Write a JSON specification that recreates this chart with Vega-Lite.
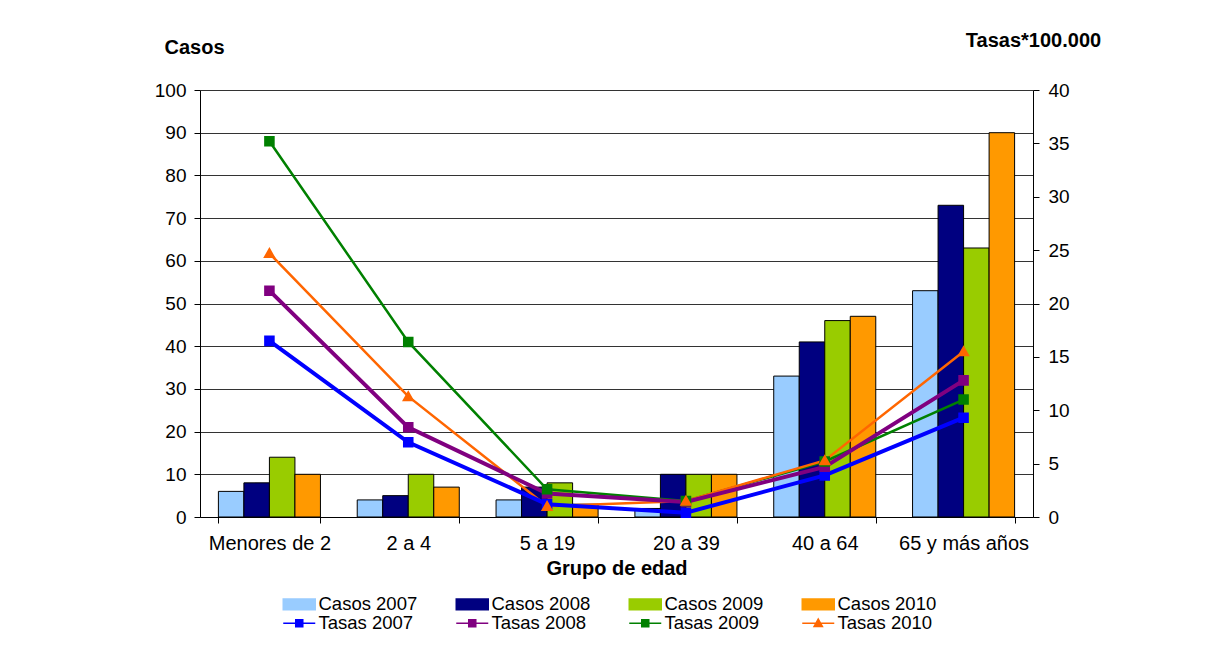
{
  "$schema": "https://vega.github.io/schema/vega-lite/v6.json",
  "width": 833,
  "height": 427,
  "autosize": {"type": "none"},
  "padding": {"left": 200, "top": 90, "right": 183, "bottom": 147},
  "background": "white",
  "config": {
    "view": {"stroke": null},
    "font": "Liberation Sans",
    "axis": {"labelColor": "black", "titleColor": "black", "domainColor": "black", "tickColor": "black", "labelFont": "Liberation Sans", "titleFont": "Liberation Sans"},
    "legend": {"labelFont": "Liberation Sans"}
  },
  "datasets": {
    "casos": [
      {"grupo": "Menores de 2", "serie": "Casos 2007", "valor": 6},
      {"grupo": "Menores de 2", "serie": "Casos 2008", "valor": 8},
      {"grupo": "Menores de 2", "serie": "Casos 2009", "valor": 14},
      {"grupo": "Menores de 2", "serie": "Casos 2010", "valor": 10},
      {"grupo": "2 a 4", "serie": "Casos 2007", "valor": 4},
      {"grupo": "2 a 4", "serie": "Casos 2008", "valor": 5},
      {"grupo": "2 a 4", "serie": "Casos 2009", "valor": 10},
      {"grupo": "2 a 4", "serie": "Casos 2010", "valor": 7},
      {"grupo": "5 a 19", "serie": "Casos 2007", "valor": 4},
      {"grupo": "5 a 19", "serie": "Casos 2008", "valor": 7},
      {"grupo": "5 a 19", "serie": "Casos 2009", "valor": 8},
      {"grupo": "5 a 19", "serie": "Casos 2010", "valor": 3},
      {"grupo": "20 a 39", "serie": "Casos 2007", "valor": 2},
      {"grupo": "20 a 39", "serie": "Casos 2008", "valor": 10},
      {"grupo": "20 a 39", "serie": "Casos 2009", "valor": 10},
      {"grupo": "20 a 39", "serie": "Casos 2010", "valor": 10},
      {"grupo": "40 a 64", "serie": "Casos 2007", "valor": 33},
      {"grupo": "40 a 64", "serie": "Casos 2008", "valor": 41},
      {"grupo": "40 a 64", "serie": "Casos 2009", "valor": 46},
      {"grupo": "40 a 64", "serie": "Casos 2010", "valor": 47},
      {"grupo": "65 y más años", "serie": "Casos 2007", "valor": 53},
      {"grupo": "65 y más años", "serie": "Casos 2008", "valor": 73},
      {"grupo": "65 y más años", "serie": "Casos 2009", "valor": 63},
      {"grupo": "65 y más años", "serie": "Casos 2010", "valor": 90}
    ],
    "tasas": [
      {"grupo": "Menores de 2", "serie": "Tasas 2007", "tasa": 16.5},
      {"grupo": "2 a 4", "serie": "Tasas 2007", "tasa": 7.0},
      {"grupo": "5 a 19", "serie": "Tasas 2007", "tasa": 1.2},
      {"grupo": "20 a 39", "serie": "Tasas 2007", "tasa": 0.4},
      {"grupo": "40 a 64", "serie": "Tasas 2007", "tasa": 3.9},
      {"grupo": "65 y más años", "serie": "Tasas 2007", "tasa": 9.3},
      {"grupo": "Menores de 2", "serie": "Tasas 2008", "tasa": 21.2},
      {"grupo": "2 a 4", "serie": "Tasas 2008", "tasa": 8.4},
      {"grupo": "5 a 19", "serie": "Tasas 2008", "tasa": 2.2},
      {"grupo": "20 a 39", "serie": "Tasas 2008", "tasa": 1.4},
      {"grupo": "40 a 64", "serie": "Tasas 2008", "tasa": 4.7},
      {"grupo": "65 y más años", "serie": "Tasas 2008", "tasa": 12.8},
      {"grupo": "Menores de 2", "serie": "Tasas 2009", "tasa": 35.2},
      {"grupo": "2 a 4", "serie": "Tasas 2009", "tasa": 16.4},
      {"grupo": "5 a 19", "serie": "Tasas 2009", "tasa": 2.6},
      {"grupo": "20 a 39", "serie": "Tasas 2009", "tasa": 1.5},
      {"grupo": "40 a 64", "serie": "Tasas 2009", "tasa": 5.2},
      {"grupo": "65 y más años", "serie": "Tasas 2009", "tasa": 11.0},
      {"grupo": "Menores de 2", "serie": "Tasas 2010", "tasa": 24.7},
      {"grupo": "2 a 4", "serie": "Tasas 2010", "tasa": 11.3},
      {"grupo": "5 a 19", "serie": "Tasas 2010", "tasa": 1.0},
      {"grupo": "20 a 39", "serie": "Tasas 2010", "tasa": 1.5},
      {"grupo": "40 a 64", "serie": "Tasas 2010", "tasa": 5.3},
      {"grupo": "65 y más años", "serie": "Tasas 2010", "tasa": 15.5}
    ]
  },
  "layer": [
    {
      "data": {"name": "casos"},
      "mark": {"type": "bar", "stroke": "black", "strokeWidth": 1},
      "encoding": {
        "x": {
          "field": "grupo", "type": "nominal",
          "sort": ["Menores de 2", "2 a 4", "5 a 19", "20 a 39", "40 a 64", "65 y más años"],
          "scale": {"paddingInner": 0.265, "paddingOuter": 0.1325},
          "axis": {"title": "Grupo de edad", "titleFontSize": 20, "titleFontWeight": "bold", "titlePadding": 5, "labelAngle": 0, "labelFontSize": 20, "labelPadding": 10, "tickSize": 6, "tickBand": "extent", "domainColor": "black"}
        },
        "xOffset": {
          "field": "serie", "type": "nominal",
          "sort": ["Casos 2007", "Casos 2008", "Casos 2009", "Casos 2010"],
          "scale": {"paddingInner": 0, "paddingOuter": 0}
        },
        "y": {
          "field": "valor", "type": "quantitative",
          "scale": {"domain": [0, 100], "nice": false},
          "axis": {"title": "Casos", "titleAngle": 0, "titleX": -6, "titleY": -43, "titleAlign": "center", "titleBaseline": "middle", "titleFontSize": 20, "titleFontWeight": "bold", "values": [0, 10, 20, 30, 40, 50, 60, 70, 80, 90, 100], "grid": true, "gridColor": "#333333", "gridWidth": 1, "tickSize": 6, "labelPadding": 8, "labelFontSize": 19}
        },
        "color": {
          "field": "serie", "type": "nominal",
          "scale": {
            "domain": ["Casos 2007", "Casos 2008", "Casos 2009", "Casos 2010", "Tasas 2007", "Tasas 2008", "Tasas 2009", "Tasas 2010"],
            "range": ["#99CCFF", "#000080", "#99CC00", "#FF9900", "#0000FF", "#800080", "#008000", "#FF6600"]
          },
          "legend": {
            "title": null, "orient": "none", "direction": "horizontal", "legendX": 90, "legendY": 505, "columns": 4, "columnPadding": 35, "rowPadding": -2,
            "padding": 0, "labelFontSize": 18.5, "labelOffset": 10, "symbolSize": 256, "labelColor": "black",
            "encode": {"symbols": {"update": {
              "fill": {"scale": "color", "field": "value"},
              "stroke": {"signal": "indexof(datum.value, 'Casos') === 0 ? '#000000' : scale('color', datum.value)"},
              "strokeWidth": {"signal": "indexof(datum.value, 'Casos') === 0 ? 1 : 3"},
              "size": {"value": 256},
              "opacity": {"value": 1}
            }}}
          }
        }
      }
    },
    {
      "data": {"name": "tasas"},
      "layer": [
        {
          "transform": [{"filter": "datum.serie === 'Tasas 2009' || datum.serie === 'Tasas 2010'"}],
          "mark": {"type": "line", "strokeWidth": 2.5},
          "encoding": {
            "x": {"field": "grupo", "type": "nominal", "sort": ["Menores de 2", "2 a 4", "5 a 19", "20 a 39", "40 a 64", "65 y más años"]},
            "y": {"field": "tasa", "type": "quantitative", "scale": {"domain": [0, 40], "nice": false},
              "axis": {"orient": "right", "title": "Tasas*100.000", "titleAngle": 0, "titleX": 0, "titleY": -50, "titleAlign": "center", "titleBaseline": "middle", "titleFontSize": 20, "titleFontWeight": "bold", "values": [0, 5, 10, 15, 20, 25, 30, 35, 40], "grid": false, "tickSize": 6, "labelPadding": 9, "labelFontSize": 19}},
            "color": {"field": "serie", "type": "nominal"}
          }
        },
        {
          "transform": [{"filter": "datum.serie === 'Tasas 2007' || datum.serie === 'Tasas 2008'"}],
          "mark": {"type": "line", "strokeWidth": 4},
          "encoding": {
            "x": {"field": "grupo", "type": "nominal", "sort": ["Menores de 2", "2 a 4", "5 a 19", "20 a 39", "40 a 64", "65 y más años"]},
            "y": {"field": "tasa", "type": "quantitative", "scale": {"domain": [0, 40], "nice": false},
              "axis": {"orient": "right", "title": "Tasas*100.000", "titleAngle": 0, "titleX": 0, "titleY": -50, "titleAlign": "center", "titleBaseline": "middle", "titleFontSize": 20, "titleFontWeight": "bold", "values": [0, 5, 10, 15, 20, 25, 30, 35, 40], "grid": false, "tickSize": 6, "labelPadding": 9, "labelFontSize": 19}},
            "color": {"field": "serie", "type": "nominal"}
          }
        },
        {
          "mark": {"type": "point", "filled": true, "size": 575, "opacity": 1},
          "encoding": {
            "x": {"field": "grupo", "type": "nominal", "sort": ["Menores de 2", "2 a 4", "5 a 19", "20 a 39", "40 a 64", "65 y más años"]},
            "y": {"field": "tasa", "type": "quantitative", "scale": {"domain": [0, 40], "nice": false},
              "axis": {"orient": "right", "title": "Tasas*100.000", "titleAngle": 0, "titleX": 0, "titleY": -50, "titleAlign": "center", "titleBaseline": "middle", "titleFontSize": 20, "titleFontWeight": "bold", "values": [0, 5, 10, 15, 20, 25, 30, 35, 40], "grid": false, "tickSize": 6, "labelPadding": 9, "labelFontSize": 19}},
            "color": {"field": "serie", "type": "nominal"},
            "shape": {
              "field": "serie", "type": "nominal",
              "scale": {
                "domain": ["Casos 2007", "Casos 2008", "Casos 2009", "Casos 2010", "Tasas 2007", "Tasas 2008", "Tasas 2009", "Tasas 2010"],
                "range": ["M-2,-0.68H2V0.68H-2Z", "M-2,-0.68H2V0.68H-2Z", "M-2,-0.68H2V0.68H-2Z", "M-2,-0.68H2V0.68H-2Z", "M-2,0H2M-0.44,-0.44H0.44V0.44H-0.44Z", "M-2,0H2M-0.44,-0.44H0.44V0.44H-0.44Z", "M-2,0H2M-0.44,-0.44H0.44V0.44H-0.44Z", "M-2,0H2M0,-0.52L0.52,0.4H-0.52Z"]
              },
              "legend": {
                "title": null, "orient": "none", "direction": "horizontal", "legendX": 90, "legendY": 505, "columns": 4, "columnPadding": 35, "rowPadding": -2,
                "padding": 0, "labelFontSize": 18.5, "labelOffset": 10, "symbolSize": 256, "labelColor": "black",
                "encode": {"symbols": {"update": {
                  "fill": {"scale": "color", "field": "value"},
                  "stroke": {"signal": "indexof(datum.value, 'Casos') === 0 ? '#000000' : scale('color', datum.value)"},
                  "strokeWidth": {"signal": "indexof(datum.value, 'Casos') === 0 ? 1 : 3"},
                  "size": {"value": 256},
                  "opacity": {"value": 1}
                }}}
              }
            }
          }
        }
      ]
    }
  ],
  "resolve": {"scale": {"y": "independent"}}
}
